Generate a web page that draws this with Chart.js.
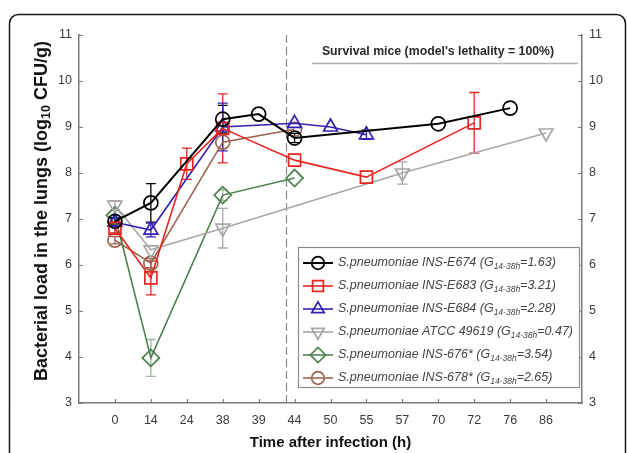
<!DOCTYPE html>
<html><head><meta charset="utf-8">
<script src="https://cdn.jsdelivr.net/npm/chart.js@4/dist/chart.umd.min.js"></script>
<style>html,body{margin:0;padding:0;background:#fff}#wrap{width:627px;height:453px;position:relative}</style>
</head><body><div id="wrap"><canvas id="c" width="627" height="453"></canvas></div>
<script>
// ---- data ----
const timeLabels = ['0','14','24','38','39','44','50','55','57','70','72','76','86'];
const yTickValues = [3,4,5,6,7,8,9,10,11];
const seriesNames = ['S.pneumoniae INS-E674','S.pneumoniae INS-E683','S.pneumoniae INS-E684','S.pneumoniae ATCC 49619','S.pneumoniae INS-676*','S.pneumoniae INS-678*'];
const gValues = ['1.63','3.21','2.28','0.47','3.54','2.65'];
const subLabel = '14-38h';
const yTitleParts = ['Bacterial load in the lungs (log', '10', ' CFU/g)'];
const xTitle = 'Time after infection (h)';
const survivalText = "Survival mice (model's lethality = 100%)";

const e674    = [6.95, 7.35, null, 9.17, 9.28, 8.76, null, null, null, 9.07, null, 9.41, null];
const e674Err = [0.08, 0.42, null, 0.30, null, 0.10, null, null, null, null, null, null, null];
const e683    = [6.80, 5.72, 8.20, 8.97, null, 8.28, null, 7.91, null, null, 9.09, null, null];
const e683Err = [0.10, 0.37, 0.34, 0.75, null, null, null, null, null, null, 0.66, null, null];
const e684    = [6.93, 6.76, null, 9.00, null, 9.08, 9.00, 8.83, null, null, null, null, null];
const e684Err = [0.08, 0.15, null, 0.52, null, null, null, 0.10, null, null, null, null, null];
const atcc    = [7.30, 6.33, null, 6.80, null, null, null, null, 8.00, null, null, null, 8.87];
const atccErr = [0.10, null, null, 0.43, null, null, null, null, 0.24, null, null, null, null];
const i676    = [7.08, 3.98, null, 7.52, null, 7.89, null, null, null, null, null, null, null];
const i676Err = [null, 0.40, null, 0.12, null, null, null, null, null, null, null, null, null];
const i678    = [6.54, 6.04, null, 8.67, null, 8.95, null, null, null, null, null, null, null];
const i678Err = [0.08, 0.10, null, null, null, null, null, null, null, null, null, null, null];

const seriesValues = [e674, e683, e684, atcc, i676, i678];
const seriesErrors = [e674Err, e683Err, e684Err, atccErr, i676Err, i678Err];
const colors = ['#000000', '#e8261f', '#3222b0', '#a8a8a8', '#4e8050', '#9c6450'];
const errColors = ['#000000', '#e8261f', '#3222b0', '#a8a8a8', 'rgba(78,128,80,0.55)', '#9c6450'];
const styles = [
  {pointStyle:'circle', rotation:0, radius:7},
  {pointStyle:'rect', rotation:0, radius:8.5},
  {pointStyle:'triangle', rotation:0, radius:8},
  {pointStyle:'triangle', rotation:180, radius:8},
  {pointStyle:'rectRot', rotation:0, radius:8.5},
  {pointStyle:'circle', rotation:0, radius:7}
];
const lineWidths = [2, 1.6, 1.6, 1.6, 1.6, 1.6];
const FONT = '"Liberation Sans", Arial, sans-serif';

const datasets = seriesValues.map((vals, s) => ({
  label: seriesNames[s],
  data: vals.map((v, i) => v == null ? null : {x: i, y: v}).filter(p => p),
  borderColor: colors[s],
  backgroundColor: '#ffffff',
  borderWidth: lineWidths[s],
  pointStyle: styles[s].pointStyle,
  rotation: styles[s].rotation,
  pointRadius: styles[s].radius,
  pointBorderWidth: 1.7,
  pointBackgroundColor: 'rgba(255,255,255,0)',
  pointBorderColor: colors[s],
  tension: 0,
  fill: false
}));

function drawPointMarker(ctx, s, x, y) {
  ctx.save();
  ctx.strokeStyle = colors[s];
  ctx.fillStyle = 'rgba(255,255,255,0)';
  ctx.lineWidth = 1.7;
  Chart.helpers.drawPoint(ctx, {pointStyle: styles[s].pointStyle, rotation: styles[s].rotation, radius: styles[s].radius * 0.9, borderWidth: 1.7}, x, y);
  ctx.restore();
}

const decor = {
  id: 'decor',
  beforeDatasetsDraw(chart) {
    const ctx = chart.ctx, xs = chart.scales.x, ys = chart.scales.y;
    ctx.save();
    // dashed vertical separator
    const dx = Math.round(xs.getPixelForValue(4.77)) + 0.5;
    ctx.strokeStyle = '#8a8a8a'; ctx.lineWidth = 1.2; ctx.setLineDash([8, 4]);
    ctx.beginPath(); ctx.moveTo(dx, ys.top); ctx.lineTo(dx, ys.bottom); ctx.stroke();
    ctx.setLineDash([]);
    // error bars
    seriesErrors.forEach((errs, s) => {
      ctx.strokeStyle = errColors[s]; ctx.lineWidth = 1.3;
      errs.forEach((e, i) => {
        const v = seriesValues[s][i];
        if (e == null || v == null) return;
        const x = xs.getPixelForValue(i);
        const yt = ys.getPixelForValue(v + e), yb = ys.getPixelForValue(v - e);
        ctx.beginPath();
        ctx.moveTo(x, yt); ctx.lineTo(x, yb);
        ctx.moveTo(x - 5, yt); ctx.lineTo(x + 5, yt);
        ctx.moveTo(x - 5, yb); ctx.lineTo(x + 5, yb);
        ctx.stroke();
      });
    });
    ctx.restore();
  },
  afterDraw(chart) {
    const ctx = chart.ctx, xs = chart.scales.x, ys = chart.scales.y;
    const ca = chart.chartArea;
    ctx.save();
    // outer frame
    ctx.strokeStyle = '#1a1a1a'; ctx.lineWidth = 1.5;
    ctx.beginPath();
    ctx.roundRect(9.5, 14.5, 616, 470, 9);
    ctx.stroke();
    // inward ticks
    ctx.strokeStyle = '#7a7a7a'; ctx.lineWidth = 1.2;
    ctx.beginPath();
    yTickValues.forEach(v => {
      const y = Math.round(ys.getPixelForValue(v)) + 0.5;
      ctx.moveTo(ca.left, y); ctx.lineTo(ca.left + 4, y);
      ctx.moveTo(ca.right, y); ctx.lineTo(ca.right - 4, y);
    });
    timeLabels.forEach((t, i) => {
      const x = Math.round(xs.getPixelForValue(i)) + 0.5;
      ctx.moveTo(x, ca.bottom); ctx.lineTo(x, ca.bottom - 4);
    });
    ctx.stroke();
    // survival annotation
    ctx.fillStyle = '#2a2a2a';
    ctx.font = 'bold 12.3px ' + FONT;
    ctx.textAlign = 'center'; ctx.textBaseline = 'middle';
    ctx.fillText(survivalText, 438, 52);
    ctx.strokeStyle = '#b0b0b0'; ctx.lineWidth = 1.5;
    ctx.beginPath(); ctx.moveTo(312, 63.5); ctx.lineTo(578, 63.5); ctx.stroke();
    // x title
    ctx.fillStyle = '#111';
    ctx.font = 'bold 15px ' + FONT;
    ctx.fillText(xTitle, (ca.left + ca.right) / 2, 443);
    // y title with subscript
    ctx.save();
    ctx.translate(42, 211);
    ctx.rotate(-Math.PI / 2);
    const fMain = 'bold 18px ' + FONT, fSub = 'bold 12.5px ' + FONT;
    ctx.font = fMain; const w0 = ctx.measureText(yTitleParts[0]).width, w2 = ctx.measureText(yTitleParts[2]).width;
    ctx.font = fSub; const w1 = ctx.measureText(yTitleParts[1]).width;
    let px = -(w0 + w1 + w2) / 2;
    ctx.textAlign = 'left';
    ctx.font = fMain; ctx.fillText(yTitleParts[0], px, 0); px += w0;
    ctx.font = fSub; ctx.fillText(yTitleParts[1], px, 5); px += w1;
    ctx.font = fMain; ctx.fillText(yTitleParts[2], px, 0);
    ctx.restore();
    // legend
    const bx = 298.5, by = 247.5, bw = 281, bh = 140;
    ctx.fillStyle = '#fff'; ctx.fillRect(bx, by, bw, bh);
    ctx.strokeStyle = '#8a8a8a'; ctx.lineWidth = 1.2; ctx.strokeRect(bx, by, bw, bh);
    seriesNames.forEach((name, s) => {
      const y = 263 + s * 23;
      ctx.strokeStyle = colors[s]; ctx.lineWidth = lineWidths[s];
      ctx.beginPath(); ctx.moveTo(303, y); ctx.lineTo(333, y); ctx.stroke();
      drawPointMarker(ctx, s, 318, y);
      ctx.fillStyle = '#444';
      ctx.textAlign = 'left'; ctx.textBaseline = 'middle';
      const fm = 'italic 12.5px ' + FONT, fs = 'italic 8.5px ' + FONT;
      let tx = 338;
      const a = name + ' (G';
      ctx.font = fm; ctx.fillText(a, tx, y); tx += ctx.measureText(a).width;
      ctx.font = fs; ctx.fillText(subLabel, tx, y + 4); tx += ctx.measureText(subLabel).width;
      ctx.font = fm; ctx.fillText('=' + gValues[s] + ')', tx, y);
    });
    ctx.restore();
  }
};

new Chart(document.getElementById('c'), {
  type: 'line',
  data: { datasets },
  options: {
    responsive: false,
    animation: false,
    devicePixelRatio: 1,
    layout: { padding: { top: 35, left: 0, right: 0, bottom: 0 } },
    plugins: { legend: { display: false }, tooltip: { enabled: false }, title: { display: false } },
    scales: {
      x: {
        type: 'linear', min: -1, max: 13,
        afterFit(s) { s.height = 50; },
        afterBuildTicks(s) { s.ticks = timeLabels.map((t, i) => ({value: i})); },
        ticks: { stepSize: 1, autoSkip: false, maxRotation: 0, padding: 10, color: '#3a3a3a', font: { family: FONT, size: 12.5 },
          callback: (v) => (Number.isInteger(v) && v >= 0 && v < timeLabels.length) ? timeLabels[v] : '' },
        grid: { display: false, drawTicks: false },
        border: { display: true, color: '#7a7a7a', width: 1.5 }
      },
      y: {
        position: 'left', min: 3, max: 11,
        afterFit(s) { s.width = 79; },
        afterBuildTicks(s) { s.ticks = yTickValues.map(v => ({value: v})); },
        ticks: { padding: 7, color: '#3a3a3a', font: { family: FONT, size: 12.5 } },
        grid: { display: false, drawTicks: false },
        border: { display: true, color: '#7a7a7a', width: 1.5 }
      },
      y2: {
        position: 'right', min: 3, max: 11,
        afterFit(s) { s.width = 45; },
        afterBuildTicks(s) { s.ticks = yTickValues.map(v => ({value: v})); },
        ticks: { padding: 7, color: '#3a3a3a', font: { family: FONT, size: 12.5 } },
        grid: { display: false, drawTicks: false },
        border: { display: true, color: '#7a7a7a', width: 1.5 }
      }
    }
  },
  plugins: [decor]
});
</script></body></html>
